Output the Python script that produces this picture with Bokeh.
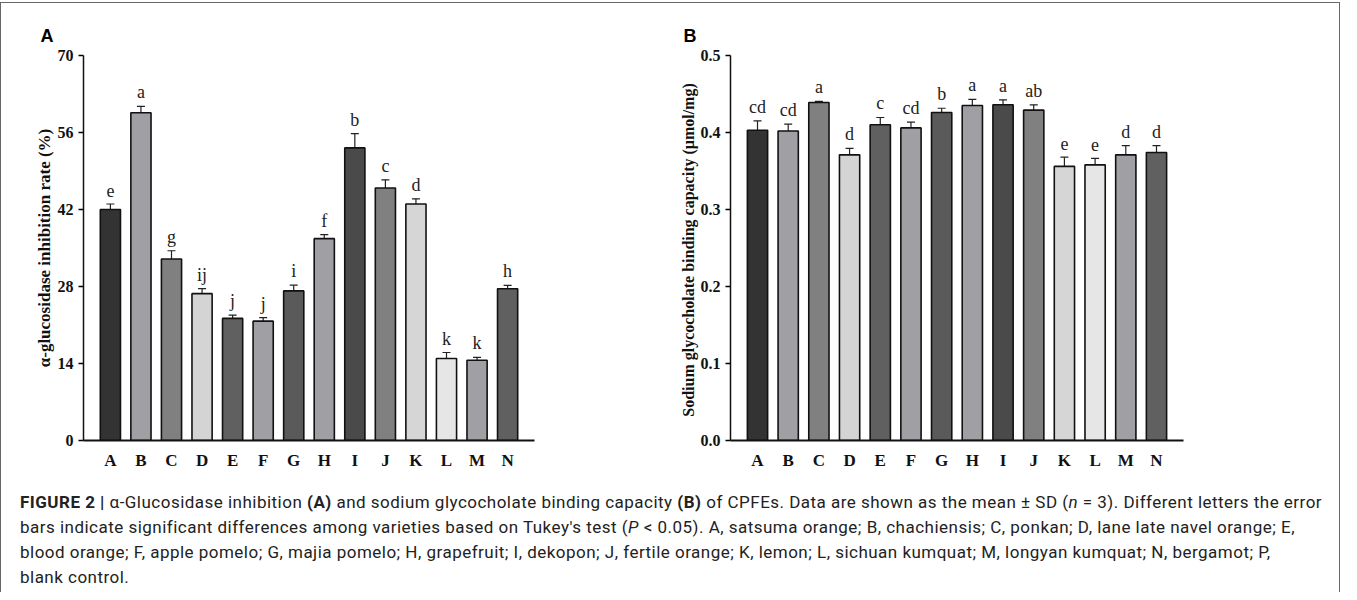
from bokeh.plotting import figure
from bokeh.models import (ColumnDataSource, FactorRange, FixedTicker, Whisker, TeeHead,
                          PrintfTickFormatter, Div, Title)
from bokeh.layouts import row, column
from bokeh.core.properties import value
from bokeh.embed import file_html
from bokeh.resources import INLINE

# ---------------- data ----------------
categories = ["A", "B", "C", "D", "E", "F", "G", "H", "I", "J", "K", "L", "M", "N"]

inhib_mean = [42.0, 59.6, 33.0, 26.7, 22.2, 21.7, 27.2, 36.7, 53.2, 45.9, 43.0, 14.9, 14.6, 27.6]
inhib_sd = [1.0, 1.15, 1.5, 0.9, 0.6, 0.65, 1.05, 0.75, 2.6, 1.5, 0.95, 1.1, 0.5, 0.6]
inhib_letters = ["e", "a", "g", "ij", "j", "j", "i", "f", "b", "c", "d", "k", "k", "h"]

bind_mean = [0.403, 0.402, 0.439, 0.371, 0.410, 0.406, 0.426, 0.435, 0.436, 0.429, 0.356, 0.358, 0.371, 0.374]
bind_sd = [0.012, 0.009, 0.0015, 0.0085, 0.0095, 0.0075, 0.0055, 0.008, 0.0065, 0.007, 0.012, 0.0085, 0.012, 0.009]
bind_letters = ["cd", "cd", "a", "d", "c", "cd", "b", "a", "a", "ab", "e", "e", "d", "d"]

bar_colors = ["#333333", "#a0a0a4", "#808080", "#d4d4d4", "#606060", "#a0a0a4", "#5a5a5a",
              "#a0a0a4", "#4a4a4a", "#808080", "#d6d6d6", "#e6e6e6", "#a0a0a4", "#606060"]

inhib_ticks = [0, 14, 28, 42, 56, 70]
bind_ticks = [0.0, 0.1, 0.2, 0.3, 0.4, 0.5]

SERIF = "Liberation Serif"
SANS = "Liberation Sans"


def make_panel(means, sds, letters, ticks, ymax, ylabel, label_size, panel, width, left, right,
               title_offset, fmt=None):
    src = ColumnDataSource(dict(
        cat=categories, val=means, color=bar_colors,
        upper=[m + s for m, s in zip(means, sds)],
        lower=[m - s for m, s in zip(means, sds)],
        letter=letters,
    ))
    p = figure(x_range=FactorRange(*categories, range_padding=0.38, range_padding_units="absolute"),
               y_range=(0, ymax), width=width, height=479,
               output_backend="svg", toolbar_location=None,
               min_border_left=left, min_border_right=right, min_border_top=52, min_border_bottom=42)
    p.title = Title(text=panel, align="left", offset=title_offset, standoff=19, text_font=SANS,
                    text_font_size="18px", text_font_style="bold", text_color="black")
    p.vbar(x="cat", top="val", width=0.66, source=src, fill_color="color",
           line_color="#111111", line_width=1.6)
    w = Whisker(source=src, base="cat", upper="upper", lower="lower",
                line_color="#222222", line_width=1.2,
                upper_head=TeeHead(size=8, line_color="#222222", line_width=1.2),
                lower_head=TeeHead(size=8, line_color="#222222", line_width=1.2))
    p.add_layout(w)
    p.text(x="cat", y="upper", text="letter", source=src, text_align="center",
           text_baseline="alphabetic", y_offset=-14, text_font=value(SERIF),
           text_font_size="18px", text_color="#222222")

    p.xgrid.visible = False
    p.ygrid.visible = False
    p.outline_line_color = None
    p.background_fill_color = "white"
    p.border_fill_color = "white"

    ya = p.yaxis[0]
    ya.ticker = FixedTicker(ticks=ticks)
    if fmt is not None:
        ya.formatter = fmt
    ya.axis_line_width = 1.5
    ya.axis_line_color = "#111111"
    ya.major_tick_out = 5
    ya.major_tick_in = 0
    ya.major_tick_line_width = 1.5
    ya.minor_tick_out = 0
    ya.minor_tick_in = 0
    ya.major_label_text_font = SERIF
    ya.major_label_text_font_style = "bold"
    ya.major_label_text_font_size = "16px"
    ya.major_label_text_color = "#111111"
    ya.major_label_standoff = 5
    ya.axis_label = ylabel
    ya.axis_label_text_font = SERIF
    ya.axis_label_text_font_style = "bold"
    ya.axis_label_text_font_size = label_size
    ya.axis_label_text_color = "#111111"
    ya.axis_label_standoff = 1

    xa = p.xaxis[0]
    xa.axis_line_width = 2
    xa.axis_line_color = "#111111"
    xa.major_tick_out = 0
    xa.major_tick_in = 0
    xa.major_label_text_font = SERIF
    xa.major_label_text_font_style = "bold"
    xa.major_label_text_font_size = "17px"
    xa.major_label_text_color = "#111111"
    xa.major_label_standoff = 10
    return p


pA = make_panel(inhib_mean, inhib_sd, inhib_letters, inhib_ticks, 70,
                "α-glucosidase inhibition rate (%)", "17px", "A", 660, 82, 127, -43)
pB = make_panel(bind_mean, bind_sd, bind_letters, bind_ticks, 0.5,
                "Sodium glycocholate  binding capacity (μmol/mg)", "16px", "B", 678, 69, 156, -47,
                fmt=PrintfTickFormatter(format="%.1f"))

caption_html = (
    "<b>FIGURE 2 |</b> α-Glucosidase inhibition <b>(A)</b> and sodium glycocholate binding capacity "
    "<b>(B)</b> of CPFEs. Data are shown as the mean ± SD (<i>n</i> = 3). Different letters the error<br>"
    "bars indicate significant differences among varieties based on Tukey's test (<i>P</i> &lt; 0.05). "
    "A, satsuma orange; B, chachiensis; C, ponkan; D, lane late navel orange; E,<br>"
    "blood orange; F, apple pomelo; G, majia pomelo; H, grapefruit; I, dekopon; J, fertile orange; "
    "K, lemon; L, sichuan kumquat; M, longyan kumquat; N, bergamot; P,<br>"
    "blank control."
)
caption = Div(text=caption_html, width=1320, height=100,
              styles={"font-family": "Roboto", "font-size": "17px", "letter-spacing": "0.48px",
                      "line-height": "25px", "color": "#222222", "padding-left": "14px",
                      "padding-top": "3px", "white-space": "nowrap"})

layout = column(row(pA, pB, spacing=0), caption, spacing=0,
                styles={"border-top": "1.5px solid #666666", "border-left": "1.5px solid #666666",
                        "border-right": "1.5px solid #666666", "background": "white",
                        "margin-top": "2px"})

open("out.html", "w").write(file_html(layout, INLINE))
